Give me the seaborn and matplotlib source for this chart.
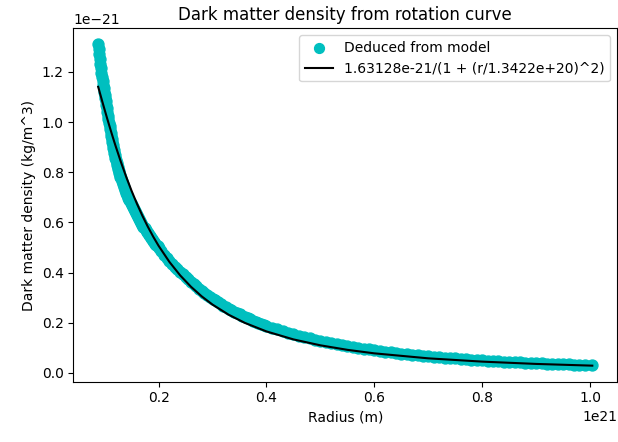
import matplotlib
matplotlib.use("Agg")
import matplotlib.pyplot as plt
import seaborn as sns
import pandas as pd
import numpy as np

# Units: radius in 1e21 m, density in 1e-21 kg/m^3
R_UNIT = 1e21
RHO_UNIT = 1e-21

# "Deduced from model" scatter, in segments
radius_a = [0.088, 0.089, 0.090, 0.091, 0.092, 0.093, 0.094, 0.095, 0.096, 0.097, 0.098, 0.099, 0.100]
density_a = [1.310, 1.290, 1.270, 1.250, 1.232, 1.214, 1.196, 1.180, 1.164, 1.149, 1.135, 1.122, 1.110]

radius_b = [0.101, 0.102, 0.103, 0.104, 0.105, 0.106, 0.107, 0.108, 0.109, 0.110,
            0.111, 0.112, 0.113, 0.114, 0.115, 0.116, 0.117, 0.118, 0.119, 0.120,
            0.121, 0.122, 0.123, 0.124, 0.125, 0.126, 0.127, 0.128, 0.129, 0.130]
density_b = [1.097, 1.085, 1.070, 1.055, 1.040, 1.025, 1.011, 0.998, 0.984, 0.971,
             0.958, 0.945, 0.933, 0.921, 0.909, 0.898, 0.887, 0.877, 0.867, 0.857,
             0.847, 0.838, 0.829, 0.821, 0.813, 0.805, 0.797, 0.790, 0.783, 0.777]

radius_c = [0.132, 0.134, 0.136, 0.138, 0.140, 0.142, 0.144, 0.146, 0.148, 0.150,
            0.152, 0.154, 0.156, 0.158, 0.160, 0.162, 0.164, 0.166, 0.168, 0.170,
            0.172, 0.174, 0.176, 0.178, 0.180, 0.182, 0.184, 0.186, 0.188, 0.190,
            0.192, 0.194, 0.196, 0.198, 0.200]
density_c = [0.765, 0.753, 0.741, 0.730, 0.719, 0.709, 0.699, 0.689, 0.679, 0.670,
             0.661, 0.652, 0.644, 0.636, 0.628, 0.620, 0.612, 0.605, 0.597, 0.590,
             0.583, 0.576, 0.570, 0.563, 0.557, 0.550, 0.544, 0.538, 0.533, 0.527,
             0.521, 0.515, 0.510, 0.504, 0.499]

radius_d = [0.205, 0.210, 0.215, 0.220, 0.225, 0.230, 0.235, 0.240, 0.245, 0.250,
            0.255, 0.260, 0.265, 0.270, 0.275, 0.280, 0.285, 0.290, 0.295, 0.300,
            0.305, 0.310, 0.315, 0.320, 0.325, 0.330, 0.335, 0.340, 0.345, 0.350,
            0.355, 0.360, 0.365, 0.370, 0.375, 0.380, 0.385, 0.390, 0.395, 0.400]
density_d = [0.484, 0.470, 0.458, 0.446, 0.434, 0.423, 0.413, 0.403, 0.393, 0.383,
             0.373, 0.363, 0.354, 0.345, 0.336, 0.328, 0.320, 0.312, 0.304, 0.296,
             0.289, 0.282, 0.275, 0.268, 0.262, 0.256, 0.250, 0.244, 0.238, 0.233,
             0.228, 0.223, 0.218, 0.213, 0.208, 0.204, 0.200, 0.196, 0.192, 0.188]

radius_e = [0.41, 0.42, 0.43, 0.44, 0.45, 0.46, 0.47, 0.48, 0.49, 0.50,
            0.51, 0.52, 0.53, 0.54, 0.55, 0.56, 0.57, 0.58, 0.59, 0.60,
            0.61, 0.62, 0.63, 0.64, 0.65, 0.66, 0.67, 0.68, 0.69, 0.70,
            0.71, 0.72, 0.73, 0.74, 0.75, 0.76, 0.77, 0.78, 0.79, 0.80,
            0.81, 0.82, 0.83, 0.84, 0.85, 0.86, 0.87, 0.88, 0.89, 0.90,
            0.91, 0.92, 0.93, 0.94, 0.95, 0.96, 0.97, 0.98, 0.99, 1.004]
density_e = [0.180, 0.173, 0.166, 0.160, 0.154, 0.148, 0.142, 0.137, 0.132, 0.128,
             0.123, 0.119, 0.115, 0.111, 0.107, 0.104, 0.100, 0.097, 0.094, 0.091,
             0.088, 0.085, 0.082, 0.080, 0.077, 0.075, 0.072, 0.070, 0.068, 0.066,
             0.064, 0.062, 0.060, 0.059, 0.0575, 0.056, 0.0545, 0.053, 0.0515, 0.050,
             0.049, 0.048, 0.0465, 0.045, 0.044, 0.043, 0.042, 0.041, 0.0397, 0.0385,
             0.0376, 0.0368, 0.036, 0.0352, 0.0344, 0.0337, 0.033, 0.0322, 0.0315, 0.0307]

# Fitted curve samples
radius_fit = [0.088, 0.090, 0.095, 0.100, 0.105, 0.110, 0.115, 0.120, 0.130, 0.140, 0.150, 0.160, 0.170,
              0.180, 0.190, 0.200, 0.220, 0.240, 0.260, 0.280, 0.300, 0.330, 0.360, 0.400, 0.450, 0.500,
              0.550, 0.600, 0.700, 0.800, 0.900, 1.004]
density_fit = [1.1408, 1.1253, 1.0867, 1.0490, 1.0120, 0.9759, 0.9407, 0.9066, 0.8417, 0.7813, 0.7253, 0.6738, 0.6264,
               0.5829, 0.5431, 0.5066, 0.4425, 0.3886, 0.3433, 0.3048, 0.2721, 0.2316, 0.1991, 0.1651, 0.1333, 0.1097,
               0.0917, 0.0777, 0.0578, 0.0447, 0.0355, 0.02864]

scatter_label = "Deduced from model"
fit_label = "1.63128e-21/(1 + (r/1.3422e+20)^2)"

radius_pts = radius_a + radius_b + radius_c + radius_d + radius_e
density_pts = density_a + density_b + density_c + density_d + density_e

df_pts = pd.DataFrame({"r": np.array(radius_pts) * R_UNIT, "rho": np.array(density_pts) * RHO_UNIT})
df_fit = pd.DataFrame({"r": np.array(radius_fit) * R_UNIT, "rho": np.array(density_fit) * RHO_UNIT})

fig = plt.figure(figsize=(6.18, 4.42), dpi=100)
ax = fig.add_axes([0.1189, 0.1364, 0.8795, 0.7995])

sns.scatterplot(data=df_pts, x="r", y="rho", ax=ax, color="c", edgecolor="c",
                linewidth=1.0, s=62, label=scatter_label, zorder=2)
sns.lineplot(data=df_fit, x="r", y="rho", ax=ax, color="k", linewidth=1.5,
             sort=False, estimator=None, label=fit_label, zorder=3)

ax.set_title("Dark matter density from rotation curve", fontsize=12)
ax.set_xlabel("Radius (m)", fontsize=10)
ax.set_ylabel("Dark matter density (kg/m^3)", fontsize=10)
leg = ax.legend(loc="upper right", scatterpoints=1, fontsize=10)
for h in leg.legend_handles:
    try:
        h.set_sizes([50])
    except AttributeError:
        pass

fig.savefig("out.png", dpi=100)
